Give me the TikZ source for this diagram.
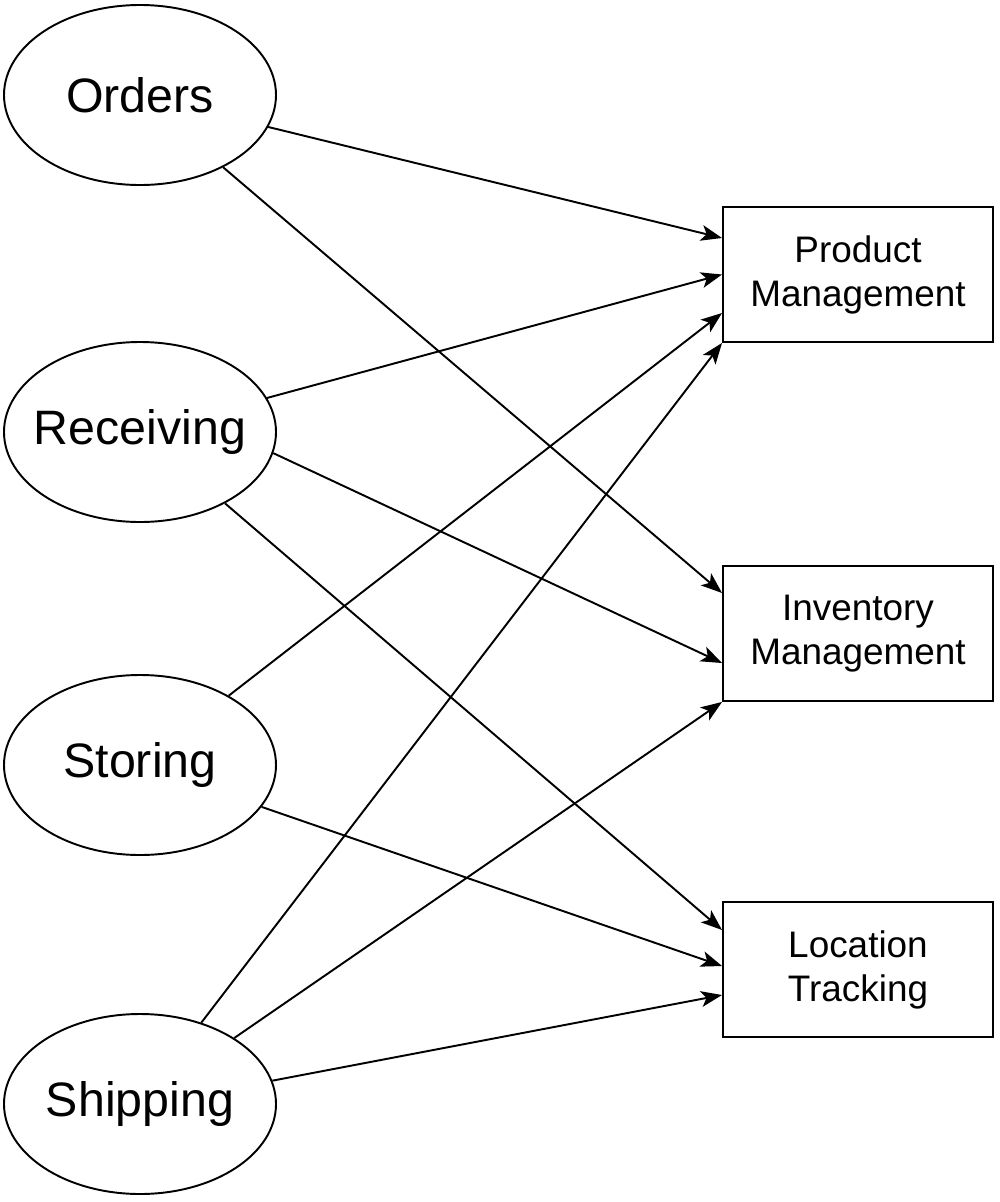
\documentclass[tikz,border=0pt]{standalone}
\usepackage{fontspec}
\setmainfont{Liberation Sans}
\usetikzlibrary{shapes.geometric,arrows.meta,positioning}

\begin{document}
\begin{tikzpicture}[
        source/.style={ellipse, draw, line width=1.1pt, minimum width=5.44cm, minimum height=3.6cm, inner xsep=-0.4cm, inner ysep=0pt, font=\fontsize{27.5}{33}\selectfont},
        module/.style={rectangle, draw, line width=1.1pt, minimum width=5.4cm, minimum height=2.7cm, align=center, font=\fontsize{21}{25}\selectfont},
        link/.style={line width=1.1pt, -{Stealth[length=12pt,width=9pt,inset=3pt]}}
    ]
        % Define the page
        \useasboundingbox (0,0) rectangle (20,-24.04);
        \def\leftx{2.8}
        \def\rightx{17.16}

        % Draw sources
        \node[source] (orders) at (\leftx,-1.9) {Orders};
        \node[source] (receiving) at (\leftx,-8.64) {Receiving};
        \node[source] (storing) at (\leftx,-15.3) {Storing};
        \node[source] (shipping) at (\leftx,-22.08) {Shipping};

        % Draw modules
        \node[module] (product) at (\rightx,-5.49) {Product\\Management};
        \node[module] (inventory) at (\rightx,-12.67) {Inventory\\Management};
        \node[module] (location) at (\rightx,-19.39) {Location\\Tracking};

        % Connect sources to modules
        \draw[link] (orders.-14) -- ([yshift=0.73cm]product.west);
        \draw[link] (orders.-41) -- ([yshift=0.81cm]inventory.west);
        \draw[link] (receiving.15) -- (product.west);
        \draw[link] (receiving.-9.5) -- ([yshift=-0.59cm]inventory.west);
        \draw[link] (receiving.-40) -- ([yshift=0.79cm]location.west);
        \draw[link] (storing.38) -- ([yshift=-0.77cm]product.west);
        \draw[link] (storing.-19) -- ([yshift=0.07cm]location.west);
        \draw[link] (shipping.53) -- (product.south west);
        \draw[link] (shipping.35) -- (inventory.south west);
        \draw[link] (shipping.10) -- ([yshift=-0.51cm]location.west);
    \end{tikzpicture}
\end{document}
